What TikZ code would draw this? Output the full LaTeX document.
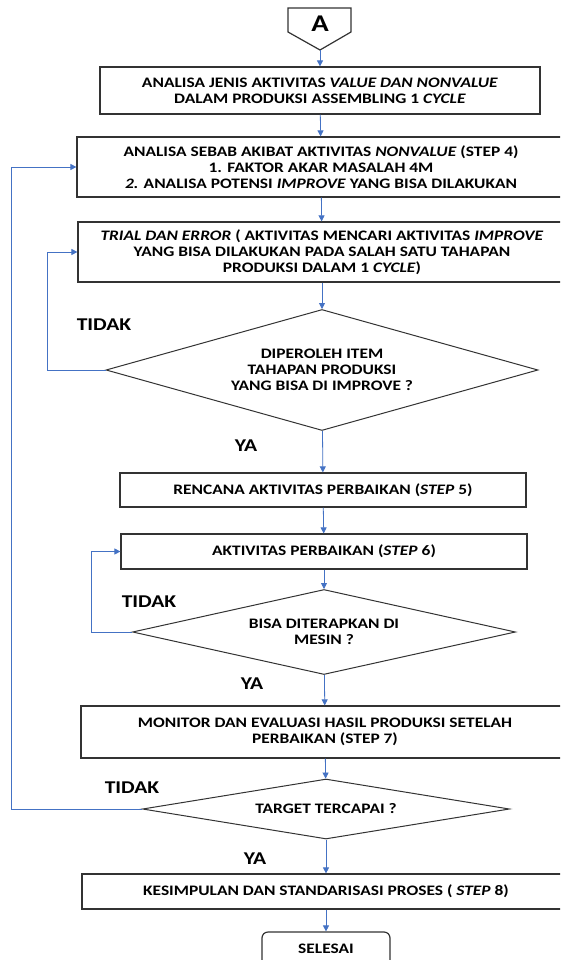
\documentclass[tikz,border=0pt]{standalone}
\usepackage{fontspec}
\setmainfont{Carlito}[FakeStretch=1.2]
\usetikzlibrary{shapes.geometric,arrows.meta}
\definecolor{flowblue}{RGB}{68,114,196}
\newcommand{\boxfont}{\fontsize{14.5}{16}\selectfont\bfseries}
\newcommand{\lblfont}{\fontsize{18}{18}\selectfont\bfseries}

\begin{document}
\begin{tikzpicture}[x=1pt,y=-1pt,
  box/.style={draw=black!80,line width=1.2pt,align=center,inner sep=0pt,font=\boxfont},
  dec/.style={diamond,draw=black!80,line width=1pt,align=center,inner sep=0pt,aspect=4,font=\boxfont},
  arr/.style={draw=flowblue,line width=0.8pt,-{Triangle[length=6pt,width=6pt]}},
  lbl/.style={font=\lblfont}]
  \useasboundingbox (0,0) rectangle (560,960);
  \clip (0,0) rectangle (560,960);
  \fill[white] (0,0) rectangle (560,960);

  \draw[draw=black!80,line width=1.2pt] (288,8) -- (351,8) -- (351,32) -- (320,50) -- (288,32) -- cycle;
  \node[font=\fontsize{24}{24}\selectfont\bfseries] (a) at (320,24) {A};
  \coordinate (atip) at (320,50);

  \node[box,minimum width=440pt,minimum height=47pt] (jenis) at (320,90.5)
    {ANALISA JENIS AKTIVITAS \textit{VALUE DAN NONVALUE}\\DALAM PRODUKSI ASSEMBLING 1 \textit{CYCLE}};
  \node[box,minimum width=488pt,minimum height=60pt] (sebab) at (321,167)
    {ANALISA SEBAB AKIBAT AKTIVITAS \textit{NONVALUE} (STEP 4)\\1. FAKTOR AKAR MASALAH 4M\\\textit{2.} ANALISA POTENSI \textit{IMPROVE} YANG BISA DILAKUKAN};
  \node[box,minimum width=488pt,minimum height=60pt] (trial) at (322,252)
    {\textit{TRIAL DAN ERROR} ( AKTIVITAS MENCARI AKTIVITAS \textit{IMPROVE}\\YANG BISA DILAKUKAN PADA SALAH SATU TAHAPAN\\PRODUKSI DALAM 1 \textit{CYCLE})};
  \node[dec,minimum width=432pt,minimum height=121pt] (item) at (322,370)
    {DIPEROLEH ITEM\\TAHAPAN PRODUKSI\\YANG BISA DI IMPROVE ?};
  \node[box,minimum width=406pt,minimum height=34pt] (rencana) at (323,490)
    {RENCANA AKTIVITAS PERBAIKAN (\textit{STEP} 5)};
  \node[box,minimum width=406pt,minimum height=35pt] (perbaikan) at (324,551.5)
    {AKTIVITAS PERBAIKAN (\textit{STEP} 6)};
  \node[dec,minimum width=383pt,minimum height=85pt] (mesin) at (324,632)
    {BISA DITERAPKAN DI\\MESIN ?};
  \node[box,minimum width=488pt,minimum height=52pt] (monitor) at (325,732)
    {MONITOR DAN EVALUASI HASIL PRODUKSI SETELAH\\PERBAIKAN (STEP 7)};
  \node[dec,minimum width=367pt,minimum height=60pt] (target) at (326,809)
    {TARGET TERCAPAI ?};
  \node[box,minimum width=488pt,minimum height=35pt] (kesimpulan) at (326,891.5)
    {KESIMPULAN DAN STANDARISASI PROSES ( \textit{STEP} 8)};
  \node[box,rounded corners=6pt,minimum width=128pt,minimum height=34pt] (selesai) at (326,949)
    {SELESAI};

  \node[lbl] (tidak1) at (104,325) {TIDAK};
  \node[lbl] (ya1) at (246,446) {YA};
  \node[lbl] (tidak2) at (149,602) {TIDAK};
  \node[lbl] (ya2) at (252,684) {YA};
  \node[lbl] (tidak3) at (132,788) {TIDAK};
  \node[lbl] (ya3) at (255,859) {YA};

  \draw[arr] (atip) -- (jenis);
  \draw[arr] (jenis) -- (sebab);
  \draw[arr] (sebab) -- (trial);
  \draw[arr] (trial) -- (item);
  \draw[arr] (item) -- (rencana);
  \draw[arr] (rencana) -- (perbaikan);
  \draw[arr] (perbaikan) -- (mesin);
  \draw[arr] (mesin) -- (monitor);
  \draw[arr] (monitor) -- (target);
  \draw[arr] (target) -- (kesimpulan);
  \draw[arr] (kesimpulan) -- (selesai);
  \draw[arr] (item.west) -- ++(-58,0) |- (trial.west);
  \draw[arr] (mesin.west) -- ++(-41,0) |- (perbaikan.west);
  \draw[arr] (target.west) -- ++(-130.5,0) |- (sebab.west);
\end{tikzpicture}
\end{document}
